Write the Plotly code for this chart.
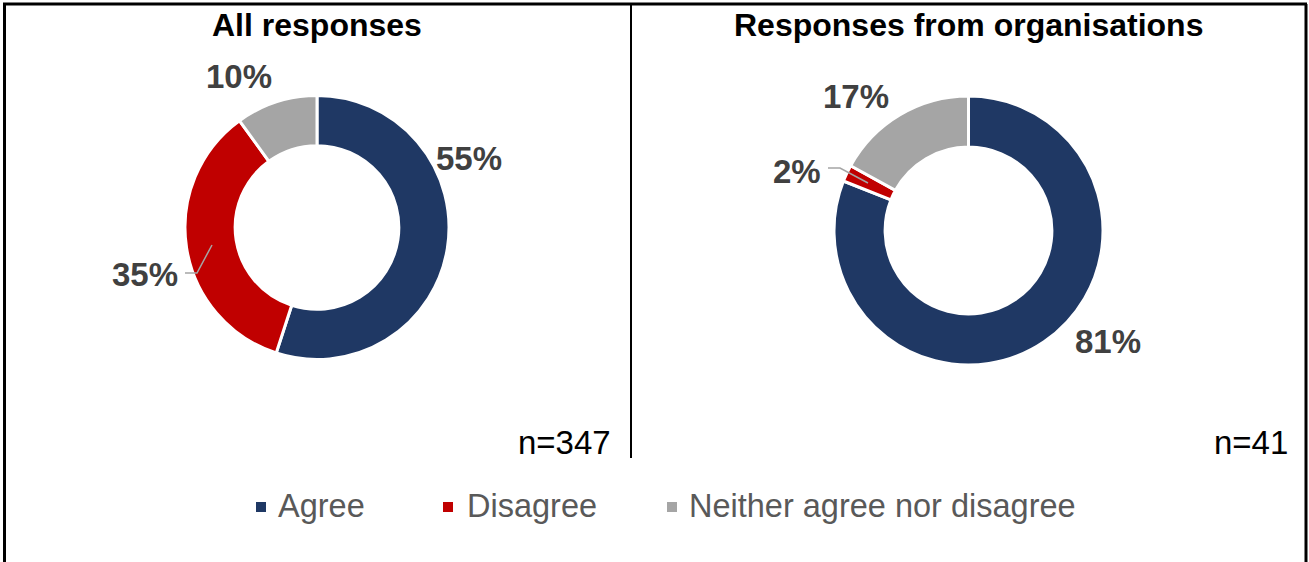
import plotly.graph_objects as go

# Response shares (%) by category, clockwise from 12 o'clock
categories = ["Agree", "Disagree", "Neither agree nor disagree"]
all_values = [55, 35, 10]
org_values = [81, 2, 17]
panel_titles = ["All responses", "Responses from organisations"]
sample_sizes = ["n=347", "n=41"]

colors = ["#1F3864", "#C00000", "#A5A5A5"]
W, H = 1309, 562
FONT = "Liberation Sans, Arial, sans-serif"


def px(x):
    return x / W


def py(y):
    return 1 - y / H


def domain(cx, cy, r):
    return dict(x=[px(cx - r), px(cx + r)], y=[py(cy + r), py(cy - r)])


fig = go.Figure()

panels = [
    dict(values=all_values, dom=domain(317, 227.5, 132), cx=317),
    dict(values=org_values, dom=domain(968.5, 230.5, 134.5), cx=968.5),
]

for p in panels:
    fig.add_trace(go.Pie(
        labels=categories,
        values=p["values"],
        domain=p["dom"],
        hole=0.62,
        sort=False,
        direction="clockwise",
        rotation=0,
        marker=dict(colors=colors, line=dict(color="white", width=3)),
        textinfo="none",
        hoverinfo="label+percent",
        showlegend=False,
    ))

annotations = []
shapes = []

# Panel titles and sample sizes
for p, title in zip(panels, panel_titles):
    annotations.append(dict(
        x=px(p["cx"]), y=py(25), xref="paper", yref="paper",
        text=f"<b>{title}</b>", showarrow=False,
        font=dict(family=FONT, size=32, color="#000000"),
        xanchor="center", yanchor="middle",
    ))
for right, n in zip([613, 1290], sample_sizes):
    annotations.append(dict(
        x=px(right), y=py(442), xref="paper", yref="paper",
        text=n, showarrow=False,
        font=dict(family=FONT, size=33, color="#000000"),
        xanchor="right", yanchor="middle",
    ))

# Data labels placed around each ring
label_pos = [
    [(469, 158), (145, 275), (239, 76)],
    [(1108, 341), (797, 171), (856, 96)],
]
for p, positions in zip(panels, label_pos):
    for v, (lx, ly) in zip(p["values"], positions):
        annotations.append(dict(
            x=px(lx), y=py(ly), xref="paper", yref="paper",
            text=f"<b>{v}%</b>", showarrow=False,
            font=dict(family=FONT, size=33, color="#404040"),
            xanchor="center", yanchor="middle",
        ))

# Leader lines for the labels set off from their slices
leaders = [
    [(185, 273), (197, 273), (212, 245)],
    [(828, 168), (840, 168), (868, 183)],
]
for pts in leaders:
    path = "M " + " L ".join(f"{px(x)},{py(y)}" for x, y in pts)
    shapes.append(dict(type="path", xref="paper", yref="paper", path=path,
                       line=dict(color="#A5A5A5", width=1.5)))

# Legend: swatch + label for each category
legend_swatch_x = [256, 443, 667]
legend_text_x = [276, 465, 687]
for cat, col, sx, tx in zip(categories, colors, legend_swatch_x, legend_text_x):
    shapes.append(dict(type="rect", xref="paper", yref="paper",
                       x0=px(sx), x1=px(sx + 10), y0=py(512), y1=py(502),
                       fillcolor=col, line=dict(width=0)))
    annotations.append(dict(
        x=px(tx), y=py(506), xref="paper", yref="paper",
        text=cat, showarrow=False,
        font=dict(family=FONT, size=32.5, color="#595959"),
        xanchor="left", yanchor="middle",
    ))

# Frame: outer border and panel divider
border = dict(color="#000000", width=3)
shapes += [
    dict(type="line", xref="paper", yref="paper", x0=px(3), x1=px(1307), y0=py(4), y1=py(4), line=border),
    dict(type="line", xref="paper", yref="paper", x0=px(4.5), x1=px(4.5), y0=py(4), y1=py(562), line=border),
    dict(type="line", xref="paper", yref="paper", x0=px(1306), x1=px(1306), y0=py(4), y1=py(562), line=border),
    dict(type="line", xref="paper", yref="paper", x0=px(631), x1=px(631), y0=py(4), y1=py(458),
         line=dict(color="#000000", width=2)),
]

fig.update_layout(
    width=W, height=H,
    margin=dict(l=0, r=0, t=0, b=0),
    paper_bgcolor="white",
    plot_bgcolor="white",
    annotations=annotations,
    shapes=shapes,
    showlegend=False,
)

fig.write_html("out.html")
